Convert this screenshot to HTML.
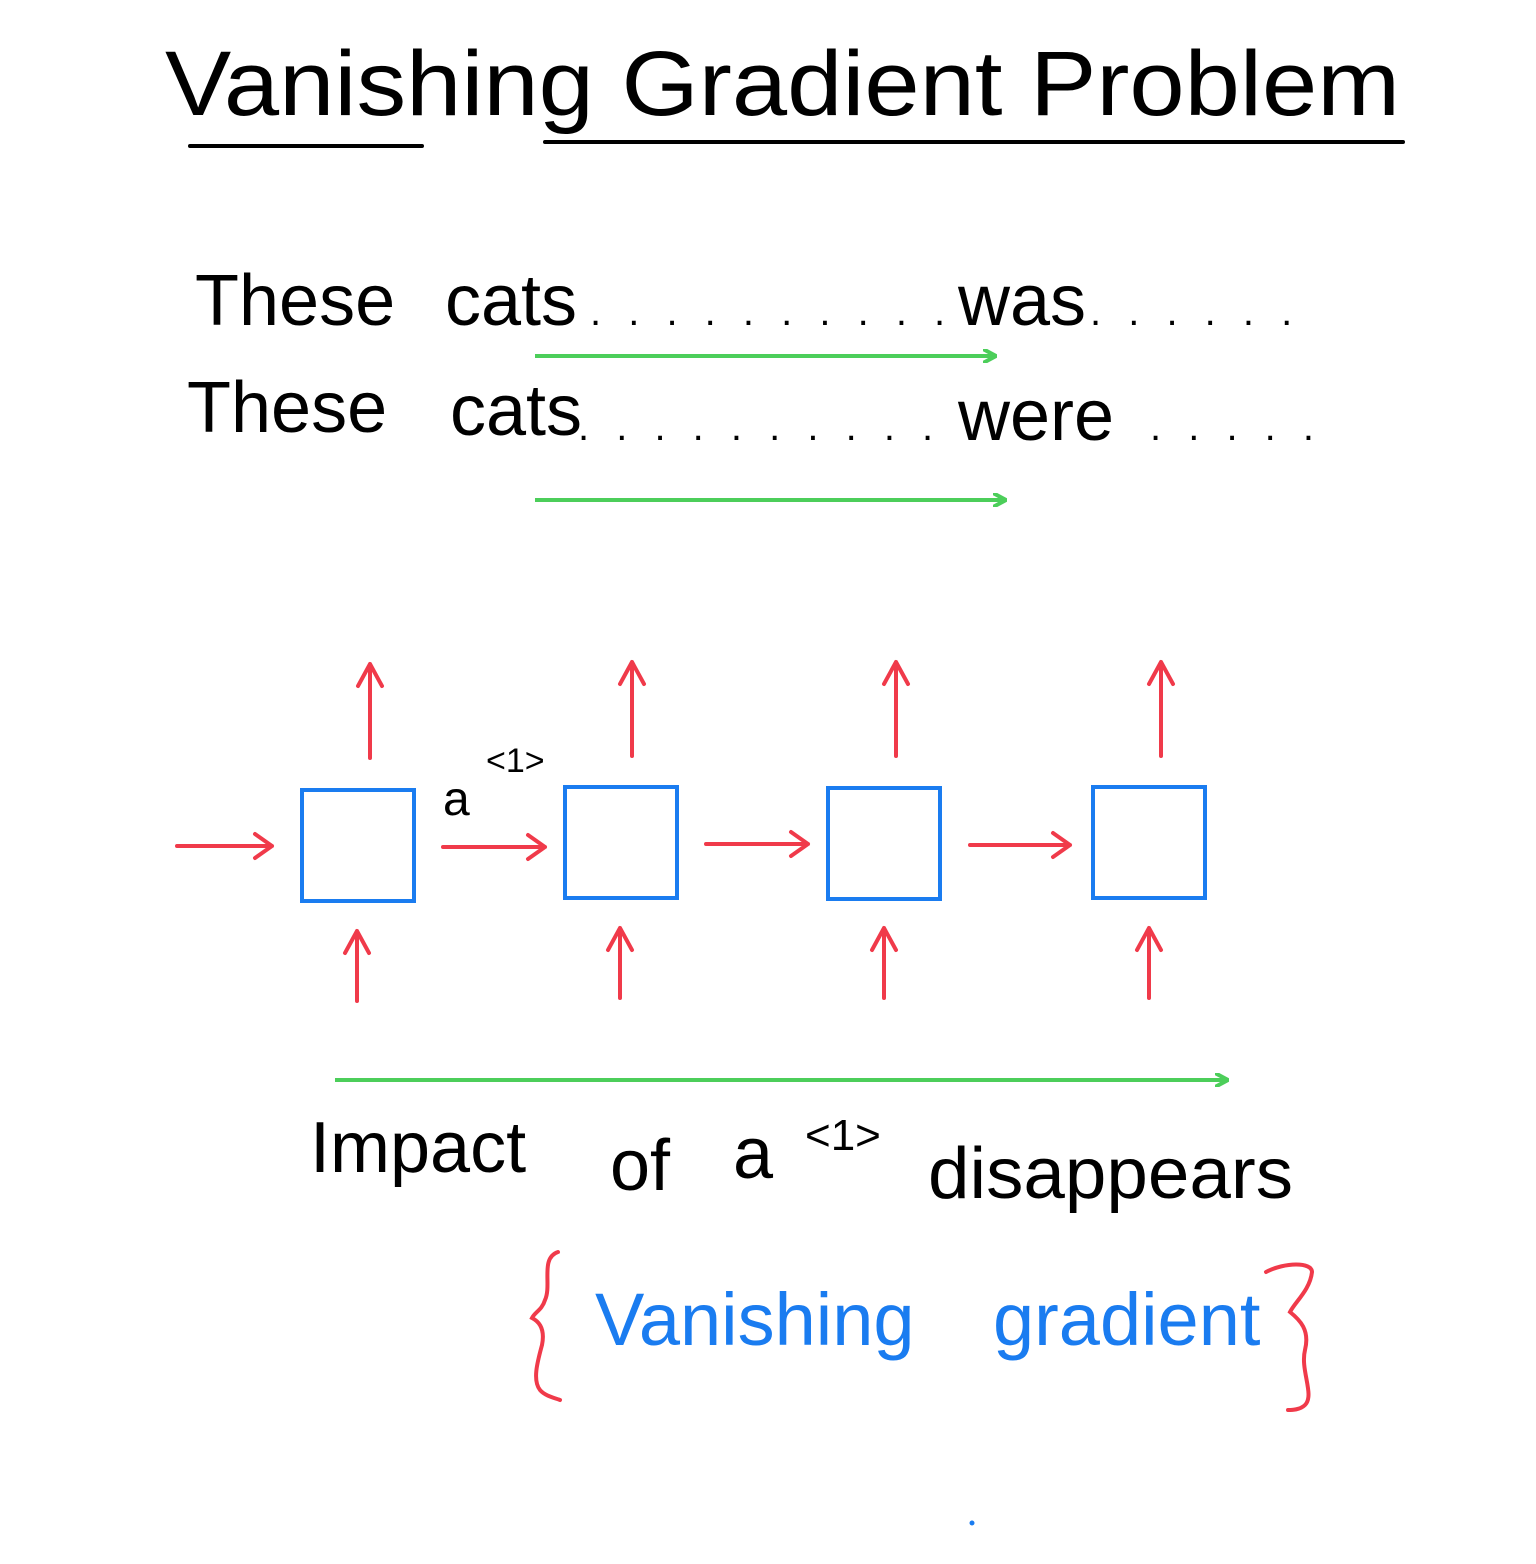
<!DOCTYPE html>
<html><head><meta charset="utf-8">
<style>
html,body{margin:0;padding:0;background:#fff;}
svg{display:block;}
text{font-family:"Liberation Sans",sans-serif;}
</style></head>
<body>
<svg width="1536" height="1564" viewBox="0 0 1536 1564">
<defs>
<marker id="ag" markerWidth="14" markerHeight="14" refX="12" refY="7" orient="auto" markerUnits="userSpaceOnUse"><path d="M0,0 L13,7 L0,14" fill="none" stroke="#4cce5a" stroke-width="4"/></marker>
</defs>
<rect width="1536" height="1564" fill="#fff"/>
<g>
<text x="165" y="115" font-size="92" fill="#000" textLength="1235" lengthAdjust="spacingAndGlyphs">Vanishing  Gradient  Problem</text>
<line x1="190" y1="146" x2="422" y2="146" stroke="#000" stroke-width="4" stroke-linecap="round"/>
<line x1="545" y1="142" x2="1403" y2="142" stroke="#000" stroke-width="4" stroke-linecap="round"/>
</g>
<g>
<text x="195" y="325" font-size="72" fill="#000">These</text>
<text x="445" y="325" font-size="72" fill="#000">cats</text>
<text x="590" y="325" font-size="40" fill="#000" letter-spacing="8">. . . . . . . . . .</text>
<text x="958" y="325" font-size="72" fill="#000">was</text>
<text x="1090" y="325" font-size="40" fill="#000" letter-spacing="8">. . . . .    .</text>
</g>
<g>
<text x="187" y="432" font-size="72" fill="#000">These</text>
<text x="450" y="435" font-size="72" fill="#000">cats</text>
<text x="578" y="440" font-size="40" fill="#000" letter-spacing="8">. . . .  .  .  . . . .</text>
<text x="958" y="440" font-size="72" fill="#000">were</text>
<text x="1150" y="440" font-size="40" fill="#000" letter-spacing="8">. . . .    .</text>
</g>
<line x1="535" y1="356" x2="995" y2="356" stroke="#4cce5a" stroke-width="4" marker-end="url(#ag)"/>
<line x1="535" y1="500" x2="1005" y2="500" stroke="#4cce5a" stroke-width="4" marker-end="url(#ag)"/>
<g fill="none" stroke="#1a7cf0" stroke-width="4">
<rect x="302" y="790" width="112" height="111"/>
<rect x="565" y="787" width="112" height="111"/>
<rect x="828" y="788" width="112" height="111"/>
<rect x="1093" y="787" width="112" height="111"/>
</g>
<g fill="none" stroke="#f03a4a" stroke-width="4" stroke-linecap="round" stroke-linejoin="round">
<path d="M177,846 H272 M255,834 L272,846 L255,858"/>
<path d="M443,847 H545 M528,835 L545,847 L528,859"/>
<path d="M706,844 H808 M791,832 L808,844 L791,856"/>
<path d="M970,845 H1070 M1053,833 L1070,845 L1053,857"/>
<path d="M370,758 V664 M358,686 L370,664 L382,686"/>
<path d="M632,756 V662 M620,684 L632,662 L644,684"/>
<path d="M896,756 V662 M884,684 L896,662 L908,684"/>
<path d="M1161,756 V662 M1149,684 L1161,662 L1173,684"/>
<path d="M357,1001 V931 M345,953 L357,931 L369,953"/>
<path d="M620,998 V928 M608,950 L620,928 L632,950"/>
<path d="M884,998 V928 M872,950 L884,928 L896,950"/>
<path d="M1149,998 V928 M1137,950 L1149,928 L1161,950"/>
</g>
<g>
<text x="443" y="815" font-size="48" fill="#000">a</text>
<text x="486" y="772" font-size="34" fill="#000">&lt;1&gt;</text>
</g>
<line x1="335" y1="1080" x2="1227" y2="1080" stroke="#4cce5a" stroke-width="4" marker-end="url(#ag)"/>
<g>
<text x="310" y="1172" font-size="72" fill="#000">Impact</text>
<text x="610" y="1190" font-size="72" fill="#000">of</text>
<text x="733" y="1178" font-size="72" fill="#000">a</text>
<text x="805" y="1150" font-size="44" fill="#000">&lt;1&gt;</text>
<text x="928" y="1198" font-size="72" fill="#000" textLength="365" lengthAdjust="spacingAndGlyphs">disappears</text>
</g>
<g>
<path d="M558,1252 C540,1258 552,1285 545,1300 C542,1310 535,1312 532,1318 C540,1322 545,1330 542,1345 C538,1360 532,1380 540,1390 C545,1396 555,1398 560,1400" fill="none" stroke="#f03a4a" stroke-width="4" stroke-linecap="round"/>
<text x="595" y="1345" font-size="74" fill="#1a7cf0">Vanishing</text>
<text x="993" y="1345" font-size="74" fill="#1a7cf0">gradient</text>
<path d="M1266,1272 C1285,1262 1312,1262 1312,1272 C1310,1290 1295,1302 1290,1312 C1300,1320 1310,1330 1305,1350 C1300,1370 1315,1395 1305,1405 C1300,1410 1292,1410 1288,1410" fill="none" stroke="#f03a4a" stroke-width="4" stroke-linecap="round"/>
</g>
<circle cx="972" cy="1523" r="2.5" fill="#1a7cf0"/>
</svg>
</body></html>
